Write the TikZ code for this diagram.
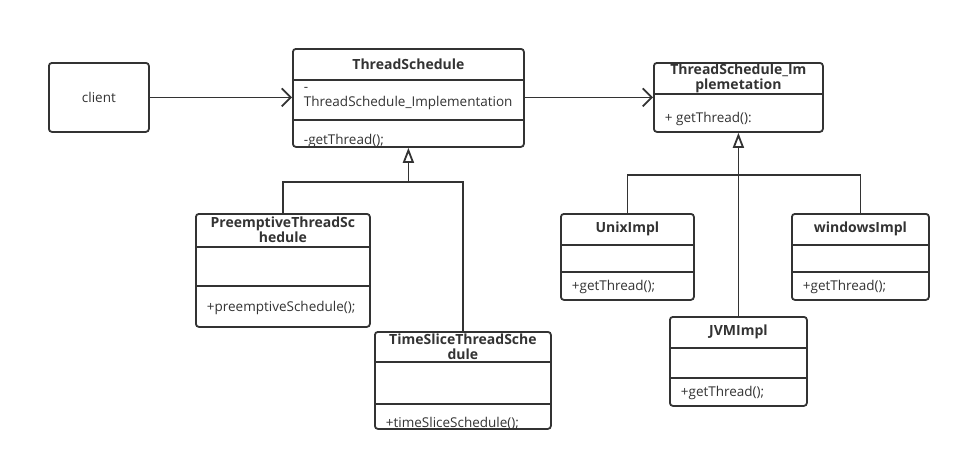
\documentclass[tikz,border=0pt]{standalone}
\usepackage{fontspec}
\setmainfont{Open Sans}
\usepackage{tikz}
\usetikzlibrary{arrows.meta,positioning}
\definecolor{umlgray}{HTML}{333333}

\begin{document}
\begin{tikzpicture}[x=1pt, y=-1pt, line width=1.8pt, color=umlgray, font=\fontsize{13.5}{15}\selectfont,
    box/.style={draw, rounded corners=3pt, inner sep=0pt, anchor=north west},
    title/.style={inner sep=0pt, align=center, font=\fontsize{14}{15}\selectfont\bfseries},
    field/.style={inner sep=0pt, align=left},
    assoc/.style={-{Straight Barb[length=9pt,width=18pt]}},
    inherit/.style={-{Triangle[open,length=15pt,width=11pt]}}]
    \useasboundingbox (0,0) rectangle (960,461);

    \node[box, minimum width=100pt, minimum height=69pt] (client) at (48,62) {client};

    % ThreadSchedule
    \node[box, minimum width=231pt, minimum height=98pt] (TS) at (292,48) {};
    \node[title, minimum height=30pt, below=0pt of TS.north] (TS-t) {ThreadSchedule};
    \node[field, minimum height=40pt, below right=30pt and 11pt of TS.north west] (TS-a) {-\\ThreadSchedule\_Implementation};
    \node[field, minimum height=28pt, below right=0pt and 0pt of TS-a.south west, yshift=-6pt] (TS-m) {-getThread();};
    \draw (TS-t.south -| TS.west) -- (TS-t.south -| TS.east);
    \draw (TS-a.south -| TS.west) -- (TS-a.south -| TS.east);

    % ThreadSchedule_Implemetation
    \node[box, minimum width=169pt, minimum height=69pt] (Impl) at (653,62) {};
    \node[title, minimum height=30pt, below=0pt of Impl.north] (Impl-t) {ThreadSchedule\_Im\\plemetation};
    \node[field, minimum height=39pt, below right=30pt and 11pt of Impl.north west, yshift=-7pt] (Impl-m) {+ getThread():};
    \draw (Impl-t.south -| Impl.west) -- (Impl-t.south -| Impl.east);

    % PreemptiveThreadSchedule
    \node[box, minimum width=174pt, minimum height=113pt] (Pre) at (195,213) {};
    \node[title, minimum height=32pt, below=0pt of Pre.north] (Pre-t) {PreemptiveThreadSc\\hedule};
    \node[field, minimum height=39pt, below right=32pt and 11pt of Pre.north west] (Pre-a) {};
    \node[field, minimum height=42pt, below right=0pt and 0pt of Pre-a.south west] (Pre-m) {+preemptiveSchedule();};
    \draw (Pre-t.south -| Pre.west) -- (Pre-t.south -| Pre.east);
    \draw (Pre-a.south -| Pre.west) -- (Pre-a.south -| Pre.east);

    % TimeSliceThreadSchedule
    \node[box, minimum width=176pt, minimum height=97pt] (Slice) at (374,331) {};
    \node[title, minimum height=29pt, below=0pt of Slice.north] (Slice-t) {TimeSliceThreadSche\\dule};
    \node[field, minimum height=42pt, below right=29pt and 11pt of Slice.north west] (Slice-a) {};
    \node[field, minimum height=26pt, below right=0pt and 0pt of Slice-a.south west, yshift=-6pt] (Slice-m) {+timeSliceSchedule();};
    \draw (Slice-t.south -| Slice.west) -- (Slice-t.south -| Slice.east);
    \draw (Slice-a.south -| Slice.west) -- (Slice-a.south -| Slice.east);

    % implementations
    \foreach \n/\t/\x/\y/\w/\m in {Unix/UnixImpl/560/213/133/27, Win/windowsImpl/791/213/137/27, JVM/JVMImpl/669/316/137/30}{
        \node[box, minimum width=\w pt, minimum height={(59+\m)*1pt}] (\n) at (\x,\y) {};
        \node[title, minimum height=30pt, below=0pt of \n.north] (\n-t) {\t};
        \node[field, minimum height=\m pt, below right=30pt and 11pt of \n.north west] (\n-a) {};
        \node[field, minimum height=29pt, below right=0pt and 0pt of \n-a.south west] (\n-m) {+getThread();};
        \draw (\n-t.south -| \n.west) -- (\n-t.south -| \n.east);
        \draw (\n-a.south -| \n.west) -- (\n-a.south -| \n.east);
    }

    % associations
    \draw[assoc] (client.east) -- (client.east -| TS.west);
    \draw[assoc] (TS.east |- client.east) -- (client.east -| Impl.west);

    % generalisations
    \path (TS.south) ++(0,34) coordinate (tsjoin);
    \draw (Pre.north) |- (tsjoin);
    \draw (Slice.north) |- (tsjoin);
    \draw[inherit] (tsjoin) -- (TS.south);

    \path (Impl.south) ++(0,42) coordinate (impljoin);
    \draw (Unix.north) |- (impljoin) -| (Win.north);
    \draw[inherit] (JVM.north) -- (Impl.south);
\end{tikzpicture}
\end{document}
